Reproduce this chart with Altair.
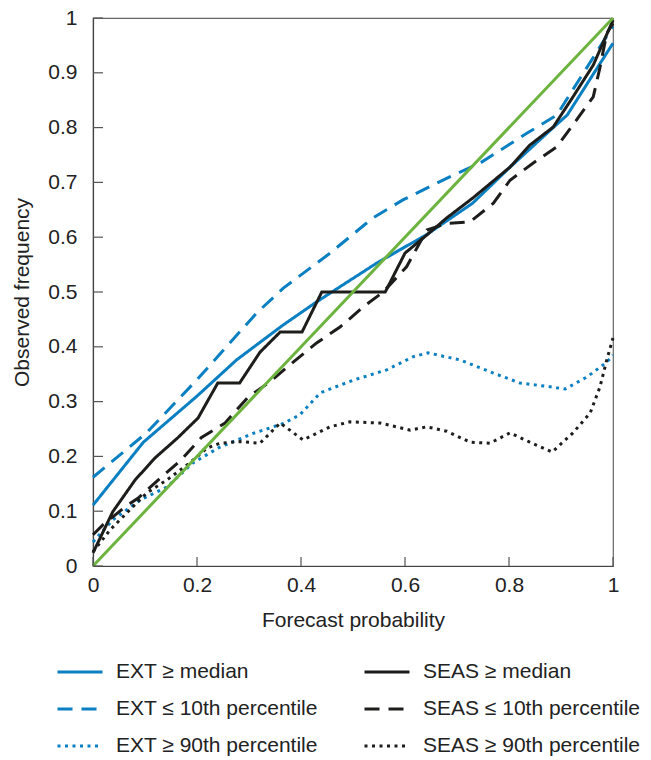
import altair as alt
import pandas as pd

# ---- data ----
ext_med_x = [0, 0.097, 0.2, 0.276, 0.366, 0.43, 0.546, 0.642, 0.73, 0.80, 0.885, 0.912, 1.0]
ext_med_y = [0.111, 0.226, 0.31, 0.376, 0.44, 0.482, 0.553, 0.605, 0.662, 0.726, 0.80, 0.823, 0.954]

ext_p10_x = [0, 0.103, 0.2, 0.315, 0.366, 0.456, 0.538, 0.596, 0.692, 0.744, 0.835, 0.892, 1.0]
ext_p10_y = [0.162, 0.243, 0.34, 0.462, 0.507, 0.571, 0.635, 0.668, 0.713, 0.735, 0.79, 0.823, 0.985]

ext_p90_x = [0, 0.038, 0.09, 0.142, 0.192, 0.244, 0.308, 0.366, 0.398, 0.437, 0.5, 0.565, 0.616,
             0.644, 0.706, 0.77, 0.821, 0.879, 0.908, 0.95, 0.988, 1.0]
ext_p90_y = [0.044, 0.084, 0.12, 0.144, 0.188, 0.217, 0.242, 0.26, 0.276, 0.316, 0.339, 0.358, 0.382,
             0.389, 0.376, 0.352, 0.334, 0.327, 0.323, 0.345, 0.372, 0.385]

seas_med_x = [0, 0.038, 0.081, 0.119, 0.163, 0.202, 0.24, 0.282, 0.321, 0.36, 0.402, 0.44, 0.562,
              0.60, 0.642, 0.68, 0.731, 0.802, 0.84, 0.885, 0.923, 0.962, 1.0]
seas_med_y = [0.024, 0.099, 0.157, 0.197, 0.234, 0.27, 0.334, 0.334, 0.39, 0.427, 0.427, 0.5, 0.5,
              0.571, 0.604, 0.635, 0.672, 0.728, 0.768, 0.801, 0.856, 0.914, 0.996]

seas_p10_x = [0, 0.019, 0.062, 0.087, 0.129, 0.169, 0.208, 0.254, 0.298, 0.34, 0.385, 0.43, 0.475,
              0.52, 0.558, 0.603, 0.642, 0.68, 0.725, 0.77, 0.802, 0.846, 0.892, 0.923, 0.962,
              0.975, 0.988, 1.0]
seas_p10_y = [0.057, 0.075, 0.108, 0.124, 0.16, 0.193, 0.234, 0.261, 0.308, 0.336, 0.372, 0.407, 0.436,
              0.473, 0.5, 0.546, 0.613, 0.625, 0.628, 0.662, 0.704, 0.735, 0.765, 0.805, 0.856,
              0.91, 0.972, 0.99]

seas_p90_x = [0, 0.033, 0.065, 0.103, 0.142, 0.186, 0.219, 0.244, 0.283, 0.321, 0.36, 0.404, 0.456,
              0.494, 0.552, 0.61, 0.642, 0.68, 0.725, 0.763, 0.802, 0.84, 0.883, 0.923, 0.956,
              0.975, 0.988, 1.0]
seas_p90_y = [0.026, 0.066, 0.097, 0.133, 0.157, 0.188, 0.215, 0.224, 0.227, 0.224, 0.261, 0.23, 0.254,
              0.263, 0.261, 0.248, 0.254, 0.246, 0.226, 0.224, 0.243, 0.226, 0.208, 0.243, 0.279,
              0.327, 0.376, 0.416]

diag_x = [0, 1]
diag_y = [0, 1]

series_order = ["EXT ≥ median", "EXT ≤ 10th percentile", "EXT ≥ 90th percentile",
                "SEAS ≥ median", "SEAS ≤ 10th percentile", "SEAS ≥ 90th percentile"]
series_xy = {
    "EXT ≥ median": (ext_med_x, ext_med_y),
    "SEAS ≥ median": (seas_med_x, seas_med_y),
    "EXT ≤ 10th percentile": (ext_p10_x, ext_p10_y),
    "SEAS ≤ 10th percentile": (seas_p10_x, seas_p10_y),
    "EXT ≥ 90th percentile": (ext_p90_x, ext_p90_y),
    "SEAS ≥ 90th percentile": (seas_p90_x, seas_p90_y),
}
x_ticks = [0, 0.2, 0.4, 0.6, 0.8, 1]
y_ticks = [0, 0.1, 0.2, 0.3, 0.4, 0.5, 0.6, 0.7, 0.8, 0.9, 1]

BLUE = "#0a7fc2"
BLACK = "#1d1d1b"
GREEN = "#6db33f"
colors = [BLUE, BLUE, BLUE, BLACK, BLACK, BLACK]
dashes = [[1, 0], [15, 9], [3, 4.5], [1, 0], [15, 9], [3, 4.5]]

rows = []
for name in series_order:
    xs, ys = series_xy[name]
    for i, (a, b) in enumerate(zip(xs, ys)):
        rows.append({"series": name, "p": a, "f": b, "i": i})
df = pd.DataFrame(rows)
diag = pd.DataFrame({"p": diag_x, "f": diag_y})
xt = pd.DataFrame({"v": x_ticks})
yt = pd.DataFrame({"v": y_ticks})

W, H = 520, 548
FONT = "Liberation Sans"
xscale = alt.Scale(domain=[0, 1], nice=False, zero=False)
yscale = alt.Scale(domain=[0, 1], nice=False, zero=False)
xaxis = alt.Axis(values=x_ticks, format="~g", title="Forecast probability",
                 tickSize=0, labelPadding=8, titlePadding=14, grid=False,
                 labelFlush=False, labelOverlap=False, labelBound=False)
yaxis = alt.Axis(values=y_ticks, format="~g", title="Observed frequency",
                 tickSize=0, labelPadding=16, titlePadding=15, grid=False,
                 labelFlush=False, labelOverlap=False, labelBound=False)

leg = alt.Legend(
    title=None, orient="none", legendX=-37, legendY=630, columns=2,
    symbolType="stroke", symbolSize=2025, symbolStrokeWidth=3,
    labelFont=FONT, labelFontSize=21, labelColor="#222", labelLimit=400,
    labelOffset=12, columnPadding=40, rowPadding=3,
)

lines = alt.Chart(df).mark_line(strokeWidth=3).encode(
    x=alt.X("p:Q", scale=xscale, axis=xaxis),
    y=alt.Y("f:Q", scale=yscale, axis=yaxis),
    color=alt.Color("series:N", scale=alt.Scale(domain=series_order, range=colors), legend=leg),
    strokeDash=alt.StrokeDash("series:N", scale=alt.Scale(domain=series_order, range=dashes), legend=leg),
    order=alt.Order("i:Q"),
)

green = alt.Chart(diag).mark_line(strokeWidth=3, color=GREEN).encode(
    x=alt.X("p:Q", scale=xscale, axis=xaxis), y=alt.Y("f:Q", scale=yscale, axis=yaxis)
)

ytick = alt.Chart(yt).mark_rule(color="#555", strokeWidth=1.2).encode(
    y=alt.Y("v:Q", scale=yscale, axis=yaxis), x=alt.value(0), x2=alt.value(10)
)
xtick = alt.Chart(xt).mark_rule(color="#555", strokeWidth=1.2).encode(
    x=alt.X("v:Q", scale=xscale, axis=xaxis), y=alt.value(H - 9), y2=alt.value(H)
)

chart = alt.layer(lines, green, ytick, xtick).properties(
    width=W, height=H,
    padding={"left": 93, "top": 18, "right": 38, "bottom": 194},
    autosize=alt.AutoSizeParams(type="none"),
).configure_view(stroke="#666", strokeWidth=1.2).configure_axis(
    labelFont=FONT, titleFont=FONT, labelFontSize=21, titleFontSize=21,
    titleFontWeight="normal", labelColor="#222", titleColor="#222",
    domainColor="#444", domainWidth=1.2,
)

chart.save("out.html", embed_options={"renderer": "svg", "actions": False})
